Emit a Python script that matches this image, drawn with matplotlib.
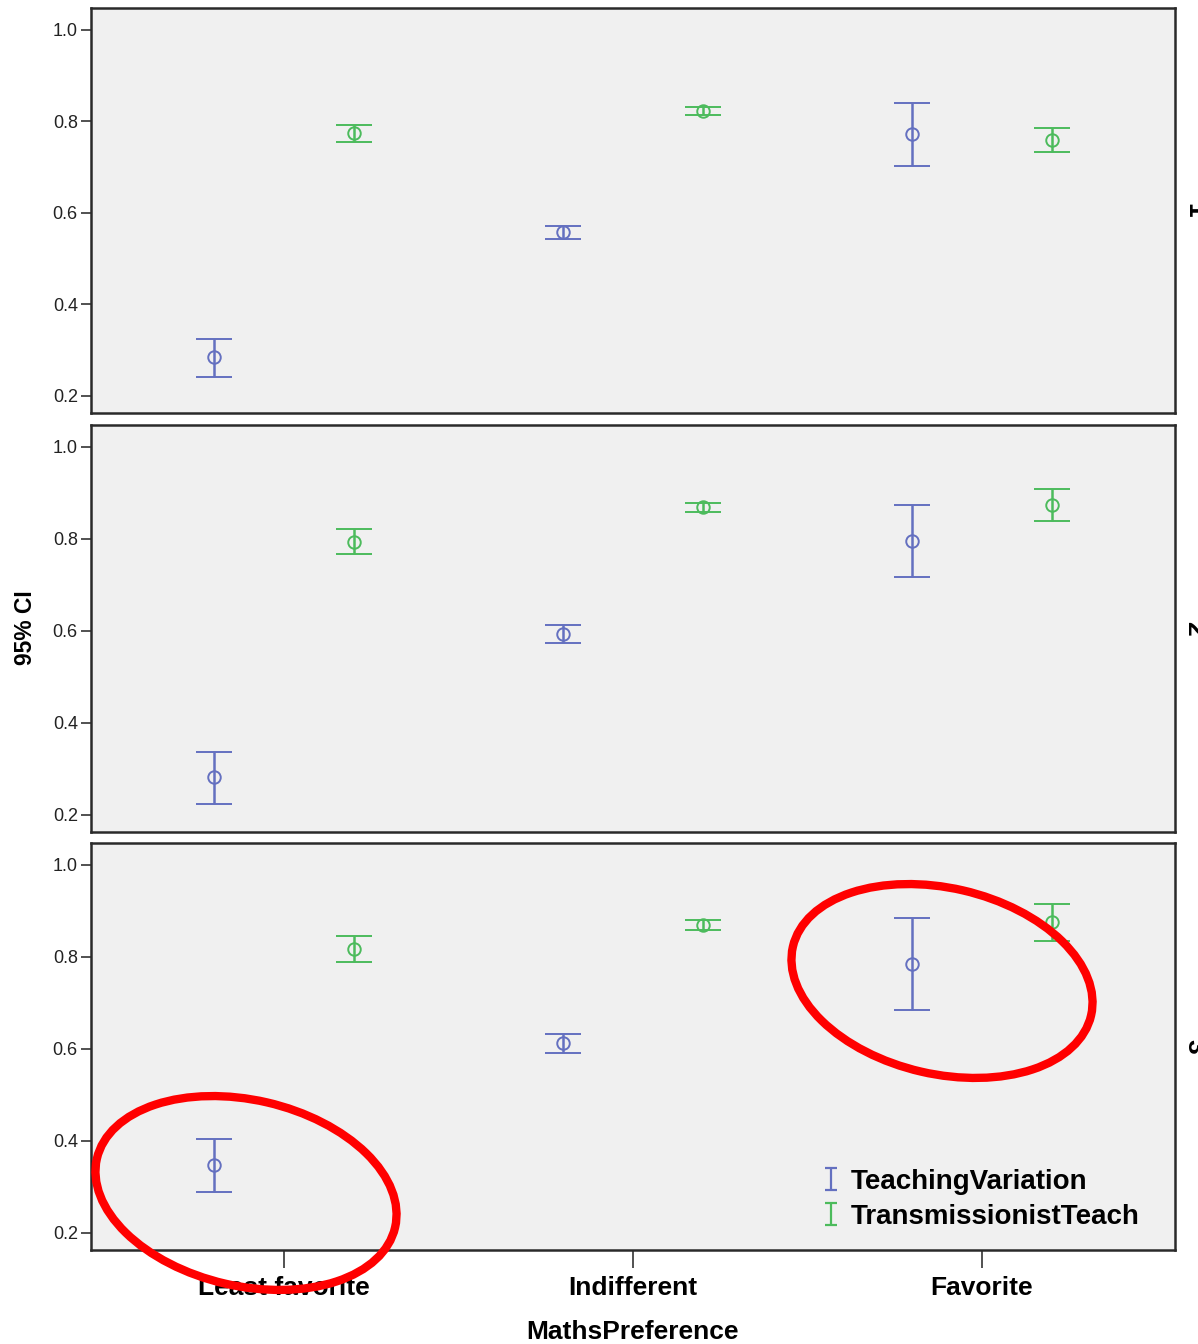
import matplotlib
matplotlib.use("Agg")
import matplotlib.pyplot as plt
import numpy as np
from matplotlib.patches import Ellipse
from matplotlib.path import Path
from matplotlib.lines import Line2D

plt.rcParams['font.family'] = ['Liberation Sans', 'DejaVu Sans']

categories = ["Least favorite", "Indifferent", "Favorite"]
panel_labels = ["1", "2", "3"]
series_names = ["TeachingVariation", "TransmissionistTeach"]

# Panel 1
p1_tv_mean = [0.285, 0.557, 0.771]
p1_tv_low = [0.241, 0.542, 0.701]
p1_tv_high = [0.324, 0.571, 0.839]
p1_tt_mean = [0.773, 0.821, 0.758]
p1_tt_low = [0.754, 0.813, 0.732]
p1_tt_high = [0.791, 0.830, 0.784]
# Panel 2
p2_tv_mean = [0.281, 0.592, 0.795]
p2_tv_low = [0.222, 0.573, 0.717]
p2_tv_high = [0.337, 0.612, 0.874]
p2_tt_mean = [0.793, 0.869, 0.874]
p2_tt_low = [0.767, 0.858, 0.839]
p2_tt_high = [0.821, 0.878, 0.908]
# Panel 3
p3_tv_mean = [0.346, 0.612, 0.784]
p3_tv_low = [0.289, 0.591, 0.684]
p3_tv_high = [0.403, 0.632, 0.884]
p3_tt_mean = [0.817, 0.869, 0.875]
p3_tt_low = [0.789, 0.858, 0.834]
p3_tt_high = [0.845, 0.880, 0.915]

yticks = [0.2, 0.4, 0.6, 0.8, 1.0]
ytick_labels = ["0.2", "0.4", "0.6", "0.8", "1.0"]

panels = [
    ((p1_tv_mean, p1_tv_low, p1_tv_high), (p1_tt_mean, p1_tt_low, p1_tt_high)),
    ((p2_tv_mean, p2_tv_low, p2_tv_high), (p2_tt_mean, p2_tt_low, p2_tt_high)),
    ((p3_tv_mean, p3_tv_low, p3_tv_high), (p3_tt_mean, p3_tt_low, p3_tt_high)),
]

colors = ["#6470c0", "#4cbb5c"]
offsets = [-0.2, 0.2]

W, H = 1198, 1344
fig = plt.figure(figsize=(W / 100, H / 100), dpi=100)

panel_px = [(8, 413), (425, 832), (843, 1250)]
left_px, right_px = 91, 1175
axes = []
x = np.arange(len(categories))
for i, ((top, bot), data) in enumerate(zip(panel_px, panels)):
    ax = fig.add_axes([left_px / W, 1 - bot / H, (right_px - left_px) / W, (bot - top) / H])
    ax.set_facecolor("#f0f0f0")
    for s, (mean, low, high) in enumerate(data):
        mean = np.array(mean); low = np.array(low); high = np.array(high)
        ax.errorbar(x + offsets[s], mean, yerr=[mean - low, high - mean],
                    fmt='o', mfc='none', mec=colors[s], ms=9, mew=1.4,
                    ecolor=colors[s], elinewidth=1.8, capsize=13, capthick=1.8)
    ax.set_xlim(-0.553, 2.553)
    ax.set_ylim(0.162, 1.047)
    ax.set_yticks(yticks)
    ax.set_yticklabels(ytick_labels, fontsize=13, color="#222222")
    ax.tick_params(axis='y', length=7.5, width=1.2, color="#333333", pad=2)
    for sp in ax.spines.values():
        sp.set_linewidth(1.8)
        sp.set_color("#2a2a2a")
    if i < 2:
        ax.set_xticks([])
    else:
        ax.set_xticks(x)
        ax.set_xticklabels(categories, fontsize=19, fontweight='bold')
        ax.tick_params(axis='x', length=13, width=1.2, color="#333333", pad=6)
        ax.set_xlabel("MathsPreference", fontsize=19, fontweight='bold', labelpad=14)
    fig.text(1182 / W, 1 - (top + bot) / 2 / H, panel_labels[i], rotation=270,
             fontsize=19, fontweight='bold', ha='left', va='center')
    axes.append(ax)

fig.text(25 / W, 1 - 628 / H, "95% CI", rotation=90, fontsize=16.5,
         fontweight='bold', ha='center', va='center')

# Legend in bottom panel with "I"-shaped error bar glyphs
ibeam = Path([(-0.27, -0.5), (0.27, -0.5), (0, -0.5), (0, 0.5), (-0.27, 0.5), (0.27, 0.5)],
             [Path.MOVETO, Path.LINETO, Path.MOVETO, Path.LINETO, Path.MOVETO, Path.LINETO])
ax = axes[2]
handles = [Line2D([], [], linestyle='none', marker=ibeam, ms=15.5, mew=1.6,
                  mec=colors[s], mfc='none') for s in range(2)]
leg = ax.legend(handles, series_names, loc='lower right', frameon=False,
                prop={'size': 20, 'weight': 'bold'}, handlelength=0.6,
                handletextpad=0.4, labelspacing=0.32,
                bbox_to_anchor=(0.99, -0.012))

# Red ellipses overlay (pixel coordinates)
ov = fig.add_axes([0, 0, 1, 1], zorder=10)
ov.set_xlim(0, W)
ov.set_ylim(H, 0)
ov.axis('off')
ov.patch.set_alpha(0)
ov.add_patch(Ellipse((246, 1193), 306, 186, angle=13, fill=False,
                     edgecolor='#ff0000', linewidth=6))
ov.add_patch(Ellipse((942, 981), 306, 186, angle=13, fill=False,
                     edgecolor='#ff0000', linewidth=6))

fig.savefig("out.png", dpi=100)
